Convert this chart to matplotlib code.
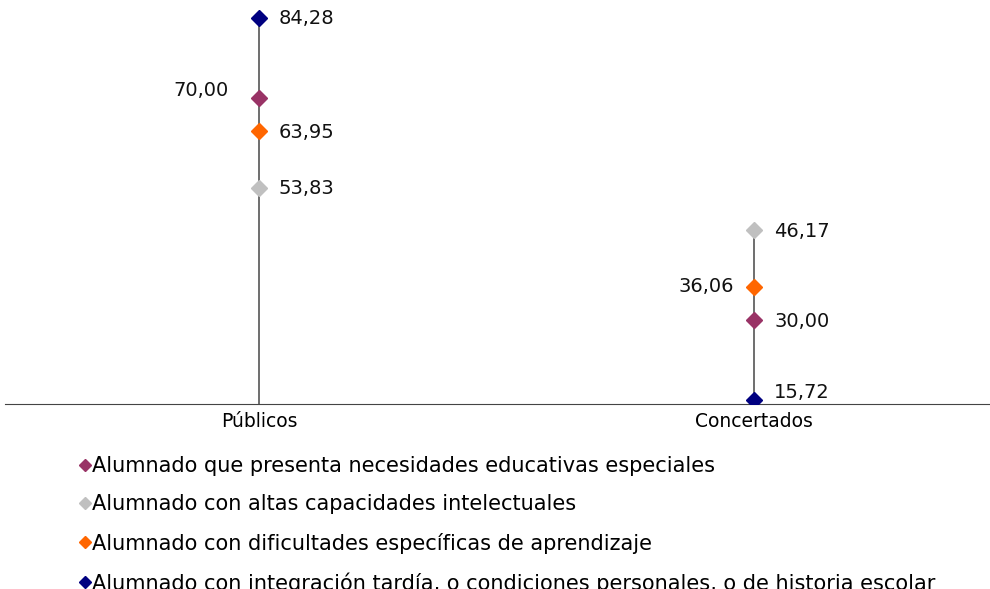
import matplotlib.pyplot as plt

plt.rcParams['font.family'] = ['DejaVu Sans']

categories = ['Públicos', 'Concertados']
series_names = [
    'Alumnado que presenta necesidades educativas especiales',
    'Alumnado con altas capacidades intelectuales',
    'Alumnado con dificultades específicas de aprendizaje',
    'Alumnado con integración tardía, o condiciones personales, o de historia escolar',
]
nee = [70.00, 30.00]
altas = [53.83, 46.17]
dificultades = [63.95, 36.06]
integracion = [84.28, 15.72]

series = [nee, altas, dificultades, integracion]
colors = ['#993366', '#C0C0C0', '#FF6600', '#000080']

# label placement per series/category: (dx px, dy px, ha)
label_pos = {
    (0, 0): (-30, 7, 'right'),
    (2, 1): (-20, 0, 'right'),
    (3, 1): (20, 7, 'left'),
}

fig = plt.figure(figsize=(9.9, 5.89), dpi=100)
ax = fig.add_axes([5 / 990, 185 / 589, 985 / 990, 404 / 589])

ax.set_xlim(-254 / 495, 1 + 236 / 495)
ax.set_ylim(15, 87.5)

# drop lines from axis to the top point of each category
for i in range(len(categories)):
    top = max(s[i] for s in series)
    ax.plot([i, i], [15, top], color='#555555', lw=1.2, zorder=1)

for k, (vals, c) in enumerate(zip(series, colors)):
    ax.plot(range(len(categories)), vals, linestyle='none', marker='D',
            markersize=8, color=c, label=series_names[k], zorder=3)
    for i, v in enumerate(vals):
        dx, dy, ha = label_pos.get((k, i), (20, -1, 'left'))
        ax.annotate(f'{v:.2f}'.replace('.', ','), (i, v), xytext=(dx, dy),
                    textcoords='offset pixels', ha=ha, va='center',
                    fontsize=14, color='#111111')

for side in ['top', 'right', 'left']:
    ax.spines[side].set_visible(False)
ax.spines['bottom'].set_color('#444444')
ax.set_yticks([])
ax.set_xticks(range(len(categories)))
ax.set_xticklabels(categories, fontsize=13.5)
ax.tick_params(axis='x', length=0, pad=6)

leg = fig.legend(loc='upper left', bbox_to_anchor=(80 / 990, 1 - 456 / 589),
                 frameon=False, fontsize=15, handlelength=0.5,
                 handletextpad=0.1, labelspacing=0.88, borderpad=0,
                 borderaxespad=0, markerscale=0.8)

fig.savefig('out.png', dpi=100)
